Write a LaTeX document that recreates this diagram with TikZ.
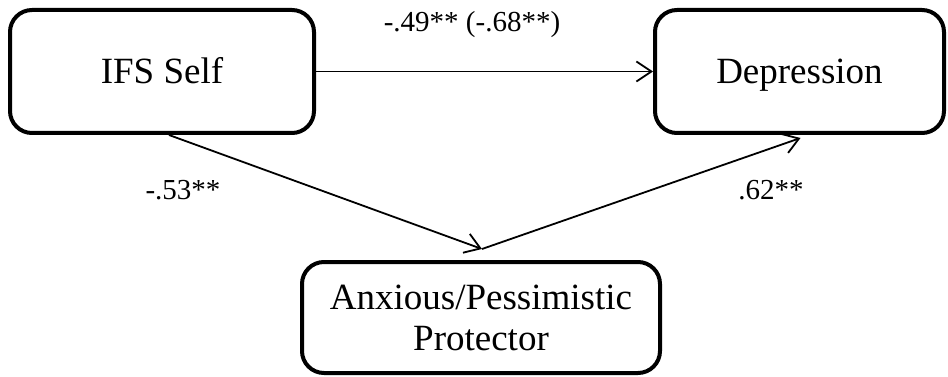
\documentclass[tikz,border=0pt]{standalone}
\usepackage{fontspec}
\setmainfont{Liberation Serif}
\usetikzlibrary{arrows.meta}
\begin{document}
\begin{tikzpicture}[x=1pt,y=-1pt,
  boxnode/.style={draw=black, line width=4pt, rounded corners=22pt, inner sep=0pt,
    font=\fontsize{37}{41}\selectfont, align=center},
  oneline/.style={text height=25pt, text depth=0pt},
  conn/.style={line width=1.8pt, -{Straight Barb[length=15pt,width=20pt,line width=1.8pt]}},
  lbl/.style={font=\fontsize{29}{32}\selectfont, inner sep=0pt}
]
\useasboundingbox (0,0) rectangle (948,377);
\node[boxnode, oneline, minimum width=304pt, minimum height=123pt] (self) at (162,71.5) {IFS Self};
\node[boxnode, oneline, minimum width=289pt, minimum height=123pt] (dep) at (799.5,71.5) {Depression};
\node[boxnode, minimum width=358pt, minimum height=111pt] (anx) at (481,317.5) {\rule{0pt}{6pt}Anxious/Pessimistic\\Protector};
\coordinate (m) at (482,249);
\draw[conn] (self.east) -- (dep.west);
\draw[conn] ([xshift=7pt]self.south) -- (m);
\draw[conn] (m) -- ([xshift=1pt,yshift=-3pt]dep.south);
\node[lbl] (l1) at (472,25) {-.49** (-.68**)};
\node[lbl] (l2) at (183,190) {-.53**};
\node[lbl] (l3) at (771,190) {.62**};
\end{tikzpicture}
\end{document}
